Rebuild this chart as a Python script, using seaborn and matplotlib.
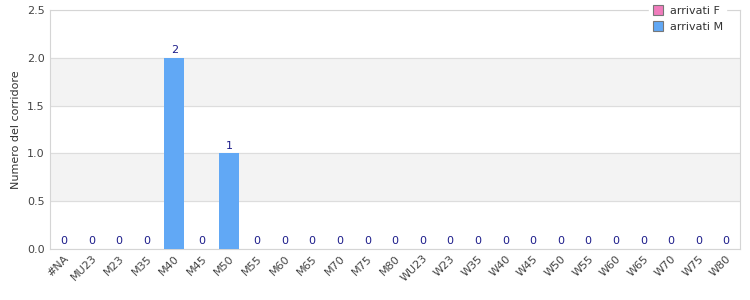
import matplotlib
matplotlib.use("Agg")
import matplotlib.pyplot as plt
import seaborn as sns
import pandas as pd
from matplotlib.lines import Line2D

categories = ["#NA", "MU23", "M23", "M35", "M40", "M45", "M50", "M55", "M60", "M65",
              "M70", "M75", "M80", "WU23", "W23", "W35", "W40", "W45", "W50", "W55",
              "W60", "W65", "W70", "W75", "W80"]
arrivati_F = [0] * 25
arrivati_M = [0, 0, 0, 0, 2, 0, 1, 0, 0, 0, 0, 0, 0, 0, 0, 0, 0, 0, 0, 0, 0, 0, 0, 0, 0]
y_ticks = [0.0, 0.5, 1.0, 1.5, 2.0, 2.5]

col_F = "#f07cbc"
col_M = "#61a8f5"

sns.set_style("white")
plt.rcParams['font.family'] = ['DejaVu Sans']

df = pd.DataFrame({
    "cat": categories * 2,
    "val": arrivati_M + arrivati_F,
    "serie": ["arrivati M"] * 25 + ["arrivati F"] * 25,
})

fig = plt.figure(figsize=(7.5, 3), dpi=100)
ax = fig.add_axes([50 / 750, 51 / 300, 690 / 750, 239 / 300])

# grey bands
for lo in (0.5, 1.5):
    ax.axhspan(lo, lo + 0.5, color="#f3f3f3", zorder=0)

sns.barplot(data=df, x="cat", y="val", hue="serie", order=categories,
            hue_order=["arrivati M", "arrivati F"],
            palette={"arrivati M": col_M, "arrivati F": col_F},
            dodge=False, width=0.72, ax=ax, legend=False, zorder=3,
            linewidth=0, errorbar=None, saturation=1)

ax.set_ylim(0, 2.5)
ax.set_xlim(-0.5, len(categories) - 0.5)
ax.set_yticks(y_ticks)
ax.set_yticklabels([f"{t:.1f}" for t in y_ticks])
for t in y_ticks:
    ax.axhline(t, color="#dddddd", lw=0.8, zorder=1)

for i, (m, f) in enumerate(zip(arrivati_M, arrivati_F)):
    tot = m + f
    ax.text(i, tot + 0.03, str(tot), ha="center", va="bottom",
            fontsize=8, color="#1c1c8a", zorder=5)

ax.set_xlabel("")
ax.set_ylabel("Numero del corridore", fontsize=8, color="#333333")
ax.tick_params(axis="x", labelrotation=45, labelsize=8, colors="#444444", length=0, pad=3)
ax.tick_params(axis="y", labelsize=8, colors="#444444", length=0, pad=4)
for lab in ax.get_xticklabels():
    lab.set_ha("right")
    lab.set_rotation_mode("anchor")

for s in ax.spines.values():
    s.set_color("#d5d5d5")
    s.set_linewidth(0.8)

handles = [Line2D([], [], marker="s", ls="", markersize=7, markerfacecolor=c,
                  markeredgecolor="#777777", markeredgewidth=0.8)
           for c in (col_F, col_M)]
leg = fig.legend(handles, ["arrivati F", "arrivati M"], loc="upper right",
                 bbox_to_anchor=(732 / 750, 1.01), frameon=True, fontsize=8,
                 handletextpad=0.6, labelspacing=0.55, borderpad=0.3,
                 handlelength=1.0)
leg.get_frame().set_facecolor("white")
leg.get_frame().set_edgecolor("white")
leg.get_frame().set_alpha(1)
for t in leg.get_texts():
    t.set_color("#333333")

fig.savefig("out.png", dpi=100)
